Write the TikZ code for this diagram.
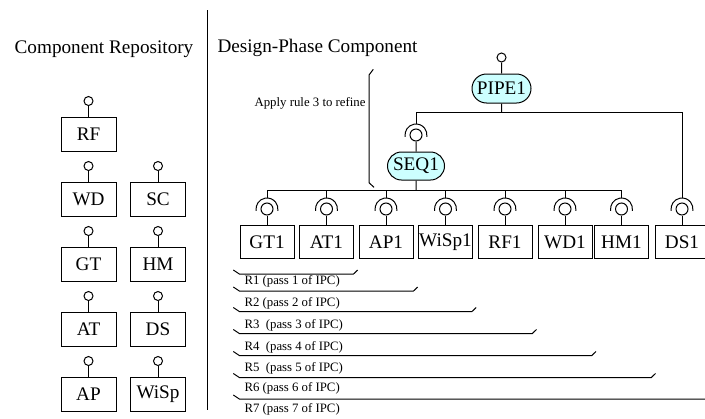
\documentclass[tikz,border=0pt]{standalone}
\usepackage{fontspec}
\setmainfont{Liberation Serif}
\usetikzlibrary{shapes.misc}

\tikzset{every picture/.style={line width=0.75pt}}
\tikzset{
  comp/.style={draw, rectangle, inner sep=0pt, minimum width=41.25pt, minimum height=25.5pt, font=\fontsize{14.4}{17}\selectfont},
  dcomp/.style={comp, minimum width=40.5pt, minimum height=24.5pt},
  ball/.style={draw, circle, inner sep=0pt, minimum size=6.75pt},
  sock/.style={draw, circle, inner sep=0pt, minimum size=9pt},
  phase/.style={draw, rounded rectangle, inner sep=0pt, fill={rgb, 255:red, 204; green, 255; blue, 255}, font=\fontsize{14.4}{17}\selectfont},
  heading/.style={inner sep=0.75pt, font=\fontsize{14.4}{17}\selectfont},
  note/.style={inner sep=0.75pt, anchor=west, font=\fontsize{9.6}{11.5}\selectfont}
}

\begin{document}
\begin{tikzpicture}[x=0.75pt,y=0.75pt,yscale=-1,xscale=1]
	\useasboundingbox (0,0) rectangle (705,418);
	%Headings
	\node[heading] (repo) at (104,49) {Component Repository};
	\node[heading, anchor=west] (design) at (216,48) {Design-Phase Component};
	%Straight Lines (divider)
	\draw    (207,10) -- (207,410) ;

	%Component Repository
	\node[comp] (RF) at (88.5,134) {RF};
	\node[comp] (WD) at (88.5,199) {WD};
	\node[comp] (GT) at (88.5,264) {GT};
	\node[comp] (AT) at (88.5,329) {AT};
	\node[comp] (AP) at (88.5,394) {AP};
	\node[comp] (SC) at (158,199) {SC};
	\node[comp] (HM) at (158,264) {HM};
	\node[comp] (DS) at (158,329) {DS};
	\node[comp] (WiSp) at (158,394) {WiSp};
	%Provided interfaces
	\node[ball] (bRF) at (88.5,101) {};
	\node[ball] (bWD) at (88.5,166) {};
	\node[ball] (bGT) at (88.5,231) {};
	\node[ball] (bAT) at (88.5,296) {};
	\node[ball] (bAP) at (88.5,361) {};
	\node[ball] (bSC) at (158,166) {};
	\node[ball] (bHM) at (158,231) {};
	\node[ball] (bDS) at (158,296) {};
	\node[ball] (bWiSp) at (158,361) {};
	\draw (bRF) -- (RF) ;
	\draw (bWD) -- (WD) ;
	\draw (bGT) -- (GT) ;
	\draw (bAT) -- (AT) ;
	\draw (bAP) -- (AP) ;
	\draw (bSC) -- (SC) ;
	\draw (bHM) -- (HM) ;
	\draw (bDS) -- (DS) ;
	\draw (bWiSp) -- (WiSp) ;

	%Design-Phase Component
	\node[phase, minimum width=44.25pt, minimum height=21.75pt] (PIPE1) at (501.5,88.5) {PIPE1};
	\node[phase, minimum width=42.75pt, minimum height=21pt] (SEQ1) at (416,166) {SEQ1};
	\node[ball] (bPIPE1) at (501.5,57.5) {};
	\draw (bPIPE1) -- (PIPE1) ;

	\node[dcomp] (GT1) at (267,242) {GT1};
	\node[dcomp] (AT1) at (326.5,242) {AT1};
	\node[dcomp] (AP1) at (386,242) {AP1};
	\node[dcomp] (WiSp1) at (445.5,242) {WiSp1};
	\node[dcomp] (RF1) at (505,242) {RF1};
	\node[dcomp] (WD1) at (565,242) {WD1};
	\node[dcomp] (HM1) at (621.5,242) {HM1};
	\node[dcomp] (DS1) at (682,242) {DS1};

	%Required interfaces
	\node[sock] (sSEQ1) at (416,135) {};
	\node[sock] (sGT1) at (267,209) {};
	\node[sock] (sAT1) at (326.5,209) {};
	\node[sock] (sAP1) at (386,209) {};
	\node[sock] (sWiSp1) at (445.5,209) {};
	\node[sock] (sRF1) at (505,209) {};
	\node[sock] (sWD1) at (565,209) {};
	\node[sock] (sHM1) at (621.5,209) {};
	\node[sock] (sDS1) at (682,209) {};
	\draw (sSEQ1.center) ++(170:11) arc [start angle=170, end angle=370, radius=11] ;
	\draw (sGT1.center) ++(170:11) arc [start angle=170, end angle=370, radius=11] ;
	\draw (sAT1.center) ++(170:11) arc [start angle=170, end angle=370, radius=11] ;
	\draw (sAP1.center) ++(170:11) arc [start angle=170, end angle=370, radius=11] ;
	\draw (sWiSp1.center) ++(170:11) arc [start angle=170, end angle=370, radius=11] ;
	\draw (sRF1.center) ++(170:11) arc [start angle=170, end angle=370, radius=11] ;
	\draw (sWD1.center) ++(170:11) arc [start angle=170, end angle=370, radius=11] ;
	\draw (sHM1.center) ++(170:11) arc [start angle=170, end angle=370, radius=11] ;
	\draw (sDS1.center) ++(170:11) arc [start angle=170, end angle=370, radius=11] ;
	\draw (sSEQ1) -- (SEQ1) ;
	\draw (sGT1) -- (GT1) ;
	\draw (sAT1) -- (AT1) ;
	\draw (sAP1) -- (AP1) ;
	\draw (sWiSp1) -- (WiSp1) ;
	\draw (sRF1) -- (RF1) ;
	\draw (sWD1) -- (WD1) ;
	\draw (sHM1) -- (HM1) ;
	\draw (sDS1) -- (DS1) ;

	%Buses
	\coordinate (pipebus) at (0,112);
	\coordinate (seqbus) at (0,190);
	\draw (PIPE1) -- (PIPE1 |- pipebus) ;
	\draw (sSEQ1.center |- pipebus) -- (sDS1.center |- pipebus) ;
	\draw (sSEQ1.center) ++(0,-11) -- (sSEQ1.center |- pipebus) ;
	\draw (sDS1.center) ++(0,-11) -- (sDS1.center |- pipebus) ;
	\draw (SEQ1) -- (SEQ1 |- seqbus) ;
	\draw (sGT1.center |- seqbus) -- (sHM1.center |- seqbus) ;
	\draw (sGT1.center) ++(0,-11) -- (sGT1.center |- seqbus) ;
	\draw (sAT1.center) ++(0,-11) -- (sAT1.center |- seqbus) ;
	\draw (sAP1.center) ++(0,-11) -- (sAP1.center |- seqbus) ;
	\draw (sWiSp1.center) ++(0,-11) -- (sWiSp1.center |- seqbus) ;
	\draw (sRF1.center) ++(0,-11) -- (sRF1.center |- seqbus) ;
	\draw (sWD1.center) ++(0,-11) -- (sWD1.center |- seqbus) ;
	\draw (sHM1.center) ++(0,-11) -- (sHM1.center |- seqbus) ;

	%Refinement bracket
	\draw    (373.3,69.3) -- (369,75) -- (369,182.7) -- (374,187.3) ;
	\node[note, anchor=east] (rule) at (367,103) {Apply rule 3 to refine};

	%Passes
	\draw    (233.3,270) -- (239.3,274) -- (353.5,274) -- (357.7,270) ;
	\draw    (233.3,287) -- (239.3,291) -- (413.5,291) -- (417.7,287) ;
	\draw    (233.3,307.5) -- (239.3,311.5) -- (472,311.5) -- (476.2,307.5) ;
	\draw    (233.3,329.5) -- (239.3,333.5) -- (532.3,333.5) -- (536.5,329.5) ;
	\draw    (233.3,351.5) -- (239.3,355.5) -- (591.8,355.5) -- (596,351.5) ;
	\draw    (233.3,373.5) -- (239.3,377.5) -- (651.3,377.5) -- (655.5,373.5) ;
	\draw    (233.3,395) -- (239.3,399) -- (710,399) ;
	\node[note] (r1) at (243,281.7) {R1 (pass 1 of IPC)};
	\node[note] (r2) at (243,303.3) {R2 (pass 2 of IPC)};
	\node[note] (r3) at (243,325) {R3\ \ (pass 3 of IPC)};
	\node[note] (r4) at (243,347.3) {R4\ \ (pass 4 of IPC)};
	\node[note] (r5) at (243,368.3) {R5\ \ (pass 5 of IPC)};
	\node[note] (r6) at (243,388.3) {R6 (pass 6 of IPC)};
	\node[note] (r7) at (243,409.3) {R7 (pass 7 of IPC)};
\end{tikzpicture}
\end{document}
